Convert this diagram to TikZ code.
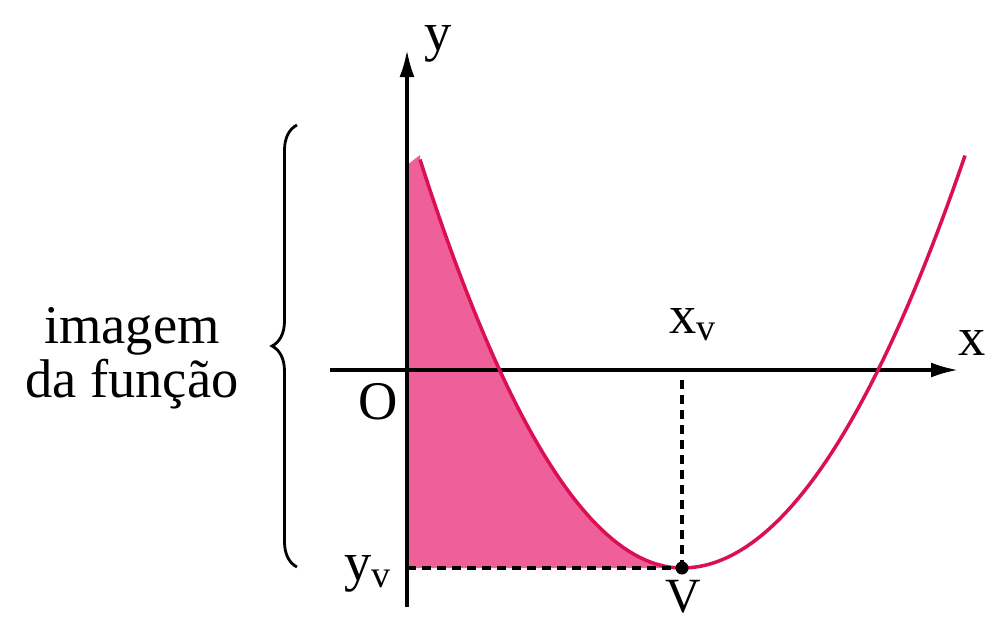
\documentclass[tikz,border=0pt]{standalone}
\usepackage{fontspec}
\setmainfont{Liberation Serif}
\usepackage{tikz}
\usetikzlibrary{arrows.meta, positioning, decorations.pathreplacing}
\usepackage{xcolor}
\definecolor{pinkfill}{RGB}{239,96,155}
\definecolor{curvered}{RGB}{218,16,82}

\begin{document}
\begin{tikzpicture}[font=\fontsize{15.5}{14}\selectfont, line width=0.9pt]
  \useasboundingbox (0,0) rectangle (9.88,6.2);
  \coordinate (V) at (6.82,0.52);
  \coordinate (xv) at (6.82,2.40);
  \coordinate (yv) at (4.07,0.52);
  \coordinate (xstart) at (3.30,2.50);
  \coordinate (xend) at (9.58,2.50);
  \coordinate (ystart) at (4.07,0.13);
  \coordinate (yend) at (4.07,5.70);
  % shaded region
  \fill[pinkfill] (yv) -- (4.07,4.55) -- (4.20,4.65)
    -- plot[domain=4.20:6.82, samples=50] (\x, {0.52+0.595*(\x-6.82)*(\x-6.82)}) -- cycle;
  \draw[-{Latex[length=2.7mm, width=1.5mm]}] (xstart) -- (xend);
  \draw[-{Latex[length=2.7mm, width=1.5mm]}] (ystart) -- (yend);
  \draw[curvered, line width=1pt]
    plot[domain=4.20:6.82, samples=50] (\x, {0.52+0.595*(\x-6.82)*(\x-6.82)})
    -- plot[domain=6.82:9.65, samples=50] (\x, {0.52+0.515*(\x-6.82)*(\x-6.82)});
  \draw[dash pattern=on 0.09cm off 0.06cm, line width=1.1pt] (xv) -- (V);
  \draw[dash pattern=on 0.09cm off 0.06cm, line width=1.1pt] (yv) -- (V);
  \fill (V) circle (0.065);
  \node (ylab) at (4.38,5.76) {y};
  \node (xlab) at (9.72,2.77) {x};
  \node (olab) at (3.78,2.18) {O};
  \node[anchor=base west, inner sep=0] (xvlab) at (6.68,2.87) {x\textsubscript{v}};
  \node[anchor=base west, inner sep=0] (yvlab) at (3.43,0.40) {y\textsubscript{v}};
  \node[anchor=north, inner sep=0, font=\fontsize{14}{14}\selectfont] (vlab) at (6.83,0.41) {V};
  % brace for the image
  \coordinate (bbot) at (2.97,0.53);
  \coordinate (btop) at (2.97,4.95);
  \coordinate (bmid) at (2.72,2.62);
  \draw[decorate, decoration={brace, amplitude=0.25cm}, line width=0.8pt] (bbot) -- (btop);
  \node[left=0.32cm of bmid, align=center, inner sep=0] (imgtxt) {imagem\\da função};
\end{tikzpicture}
\end{document}
